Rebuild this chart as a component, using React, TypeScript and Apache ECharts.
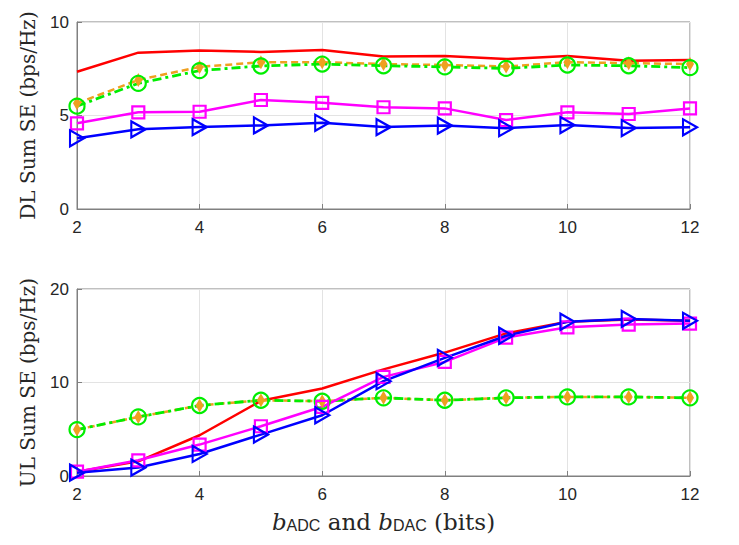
import React, { useEffect, useRef } from "react";
import * as echarts from "echarts";

const bits = [2, 3, 4, 5, 6, 7, 8, 9, 10, 11, 12];

const dlRed = [7.34, 8.36, 8.47, 8.4, 8.5, 8.15, 8.18, 8.02, 8.18, 7.93, 7.97];
const dlOrange = [5.65, 6.9, 7.6, 7.85, 7.85, 7.75, 7.7, 7.62, 7.85, 7.8, 7.75];
const dlGreen = [5.5, 6.72, 7.4, 7.65, 7.75, 7.66, 7.6, 7.52, 7.7, 7.66, 7.56];
const dlMagenta = [4.58, 5.17, 5.2, 5.83, 5.68, 5.44, 5.38, 4.76, 5.17, 5.08, 5.38];
const dlBlue = [3.78, 4.26, 4.38, 4.47, 4.61, 4.38, 4.46, 4.32, 4.49, 4.33, 4.37];

const ulRed = [0.46, 1.57, 4.36, 8.04, 9.36, 11.4, 13.2, 15.25, 16.5, 16.75, 16.6];
const ulOrange = [4.96, 6.32, 7.54, 8.1, 8.0, 8.36, 8.1, 8.36, 8.46, 8.46, 8.36];
const ulGreen = [4.96, 6.32, 7.54, 8.1, 8.0, 8.36, 8.1, 8.36, 8.46, 8.46, 8.36];
const ulMagenta = [0.46, 1.68, 3.36, 5.32, 7.4, 10.6, 12.2, 14.8, 15.9, 16.2, 16.3];
const ulBlue = [0.36, 0.9, 2.36, 4.43, 6.5, 10.14, 12.64, 15.0, 16.5, 16.8, 16.6];

const dlTicks = [0, 5, 10];
const ulTicks = [0, 10, 20];

const pair = (ys: number[]) => bits.map((x, i) => [x, ys[i]]);

const RED = "#FF0000";
const ORANGE = "#EFA020";
const GREEN = "#00EE00";
const MAGENTA = "#FF00FF";
const BLUE = "#0000FF";

function makeSeries(idx: number, red: number[], orange: number[], green: number[], mag: number[], blue: number[]) {
  const base = { type: "line", xAxisIndex: idx, yAxisIndex: idx, silent: true };
  const hollow = (c: string) => ({ color: "rgba(0,0,0,0)", borderColor: c, borderWidth: 2.2 });
  return [
    { ...base, data: pair(red), showSymbol: false, symbol: "none", lineStyle: { color: RED, width: 2.5 } },
    {
      ...base,
      data: pair(orange),
      symbol: "diamond",
      symbolSize: [8, 14],
      itemStyle: { color: ORANGE, borderWidth: 0 },
      lineStyle: { color: ORANGE, width: 2.5, type: [7, 4] },
    },
    {
      ...base,
      data: pair(green),
      symbol: "circle",
      symbolSize: 15,
      itemStyle: hollow(GREEN),
      lineStyle: { color: GREEN, width: 2.8, type: [9, 4, 3, 4] },
    },
    {
      ...base,
      data: pair(mag),
      symbol: "rect",
      symbolSize: 12,
      itemStyle: hollow(MAGENTA),
      lineStyle: { color: MAGENTA, width: 2.5 },
    },
    {
      ...base,
      data: pair(blue),
      symbol: "triangle",
      symbolSize: [16, 14],
      symbolRotate: -90,
      itemStyle: hollow(BLUE),
      lineStyle: { color: BLUE, width: 2.5 },
    },
  ];
}

export default function App() {
  const ref = useRef<HTMLDivElement>(null);
  useEffect(() => {
    if (!ref.current) return;
    const chart = echarts.init(ref.current, undefined, { renderer: "svg" });
    const tickFont = { fontSize: 17, color: "#262626", fontFamily: "Liberation Sans" };
    const serif = "DejaVu Serif";
    const xAxisCommon = {
      type: "value",
      min: 2,
      max: 12,
      interval: 2,
      axisLine: { show: true, lineStyle: { color: "#808080", width: 1 } },
      axisTick: { show: true, inside: true, length: 5, lineStyle: { color: "#808080" } },
      axisLabel: { ...tickFont, margin: 10 },
      splitLine: { show: true, lineStyle: { color: "#E3E3E3", width: 1 } },
    };
    const yAxisCommon = {
      type: "value",
      axisLine: { show: true, lineStyle: { color: "#808080", width: 1 } },
      axisTick: { show: true, inside: true, length: 5, lineStyle: { color: "#808080" } },
      axisLabel: { ...tickFont, margin: 8 },
      splitLine: { show: true, lineStyle: { color: "#E3E3E3", width: 1 } },
      nameLocation: "middle",
      nameRotate: 90,
      nameGap: 39,
      nameTextStyle: { fontSize: 20, color: "#262626", fontFamily: serif },
    };
    chart.setOption({
      animation: false,
      backgroundColor: "#ffffff",
      grid: [
        { left: 77, top: 22, width: 613, height: 187, show: true, borderColor: "#808080", borderWidth: 1, backgroundColor: "transparent" },
        { left: 77, top: 289, width: 613, height: 187, show: true, borderColor: "#808080", borderWidth: 1, backgroundColor: "transparent" },
      ],
      xAxis: [
        { ...xAxisCommon, gridIndex: 0 },
        {
          ...xAxisCommon,
          gridIndex: 1,
          name: "{bi|b}{sub|ADC}{t| and }{bi|b}{sub|DAC}{t| (bits)}",
          nameLocation: "middle",
          nameGap: 30,
          nameTextStyle: {
            rich: {
              bi: { fontSize: 23, fontStyle: "italic", fontFamily: serif, color: "#262626", verticalAlign: "bottom", lineHeight: 27 },
              t: { fontSize: 23, fontFamily: serif, color: "#262626", verticalAlign: "bottom", lineHeight: 27 },
              sub: { fontSize: 16, fontFamily: "Liberation Sans", color: "#262626", verticalAlign: "bottom", lineHeight: 12 },
            },
          },
        },
      ],
      yAxis: [
        { ...yAxisCommon, gridIndex: 0, min: dlTicks[0], max: dlTicks[2], interval: dlTicks[1] - dlTicks[0], name: "DL Sum SE (bps/Hz)" },
        { ...yAxisCommon, gridIndex: 1, min: ulTicks[0], max: ulTicks[2], interval: ulTicks[1] - ulTicks[0], name: "UL Sum SE (bps/Hz)" },
      ],
      series: [
        ...makeSeries(0, dlRed, dlOrange, dlGreen, dlMagenta, dlBlue),
        ...makeSeries(1, ulRed, ulOrange, ulGreen, ulMagenta, ulBlue),
      ],
    });
    return () => chart.dispose();
  }, []);
  return (
    <div
      ref={ref}
      style={{ position: "fixed", left: 0, top: 0, width: 739, height: 545, background: "#fff" }}
    />
  );
}
